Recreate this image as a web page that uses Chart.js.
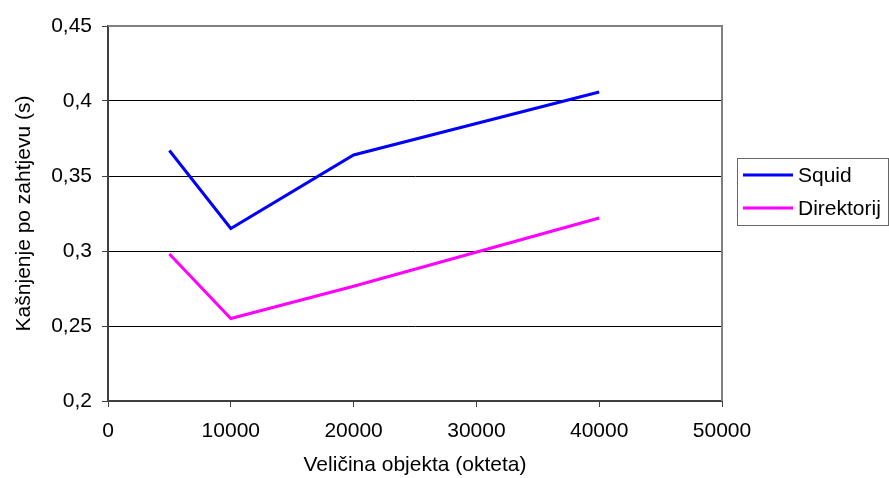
<!DOCTYPE html>
<html>
<head>
<meta charset="utf-8">
<script src="https://cdn.jsdelivr.net/npm/chart.js@4/dist/chart.umd.min.js"></script>
<style>
  html, body { margin: 0; padding: 0; background: #fff; }
  #wrap { width: 889px; height: 478px; }
</style>
</head>
<body>
<div id="wrap"><canvas id="c"></canvas></div>
<script>
// data
var sizes = [5000, 10000, 20000, 40000];
var squid = [0.367, 0.315, 0.364, 0.406];
var direktorij = [0.298, 0.255, 0.2765, 0.322];
var seriesNames = ['Squid', 'Direktorij'];
var yTicks = [0.2, 0.25, 0.3, 0.35, 0.4, 0.45];
var xTicks = [0, 10000, 20000, 30000, 40000, 50000];

var fontFam = '"Liberation Sans", Arial, sans-serif';
var fs = 21;

function pts(xs, ys) {
  var out = [];
  for (var i = 0; i < xs.length; i++) out.push({x: xs[i], y: ys[i]});
  return out;
}

// frame on top/right and the boxed legend, excel style
var frame = {
  id: 'frame',
  afterDraw: function (chart) {
    var ctx = chart.ctx, a = chart.chartArea;
    ctx.save();
    ctx.strokeStyle = '#808080';
    ctx.lineWidth = 2;
    ctx.beginPath();
    ctx.moveTo(a.left, a.top);
    ctx.lineTo(a.right, a.top);
    ctx.lineTo(a.right, a.bottom);
    ctx.stroke();

    // legend
    var bx = 737, by = 158, bw = 151, bh = 67;
    ctx.strokeStyle = '#666';
    ctx.lineWidth = 1;
    ctx.strokeRect(bx + 0.5, by + 0.5, bw, bh);
    ctx.font = fs + 'px ' + fontFam;
    ctx.textBaseline = 'middle';
    ctx.fillStyle = '#000';
    chart.data.datasets.forEach(function (ds, i) {
      var yy = 175 + i * 33;
      ctx.strokeStyle = ds.borderColor;
      ctx.lineWidth = 3;
      ctx.beginPath();
      ctx.moveTo(743, yy);
      ctx.lineTo(793, yy);
      ctx.stroke();
      ctx.fillText(ds.label, 798, yy + 1);
    });
    ctx.restore();
  }
};

new Chart(document.getElementById('c'), {
  type: 'scatter',
  data: {
    datasets: [
      {label: seriesNames[0], data: pts(sizes, squid), showLine: true, borderColor: '#0000ff', borderWidth: 3, pointRadius: 0, fill: false},
      {label: seriesNames[1], data: pts(sizes, direktorij), showLine: true, borderColor: '#ff00ff', borderWidth: 3, pointRadius: 0, fill: false}
    ]
  },
  options: {
    responsive: true,
    maintainAspectRatio: false,
    animation: false,
    layout: {padding: {left: 0, right: 167, top: 26, bottom: 0}},
    plugins: {legend: {display: false}, tooltip: {enabled: false}},
    scales: {
      x: {
        type: 'linear',
        min: 0, max: 50000,
        afterBuildTicks: function (s) { s.ticks = xTicks.map(function (v) { return {value: v}; }); },
        afterFit: function (s) { s.height = 77; },
        grid: {drawOnChartArea: false, tickLength: 6, color: '#404040'},
        border: {color: '#404040', width: 2},
        ticks: {color: '#000', font: {family: fontFam, size: fs}, padding: 12, maxRotation: 0,
          callback: function (v) { return String(v); }},
        title: {display: true, text: 'Veličina objekta (okteta)', color: '#000', font: {family: fontFam, size: fs}, padding: {top: 4, bottom: 0}}
      },
      y: {
        min: 0.2, max: 0.45,
        afterBuildTicks: function (s) { s.ticks = yTicks.map(function (v) { return {value: v}; }); },
        afterFit: function (s) { s.width = 108; },
        grid: {color: '#000', lineWidth: 1, tickLength: 6, tickColor: '#404040'},
        border: {color: '#404040', width: 2},
        ticks: {color: '#000', font: {family: fontFam, size: fs}, padding: 10,
          callback: function (v) { return String(Math.round(v * 100) / 100).replace('.', ','); }},
        title: {display: true, text: 'Kašnjenje po zahtjevu (s)', color: '#000', font: {family: fontFam, size: fs}, padding: {top: 12, bottom: 0}}
      }
    }
  },
  plugins: [frame]
});
</script>
</body>
</html>
